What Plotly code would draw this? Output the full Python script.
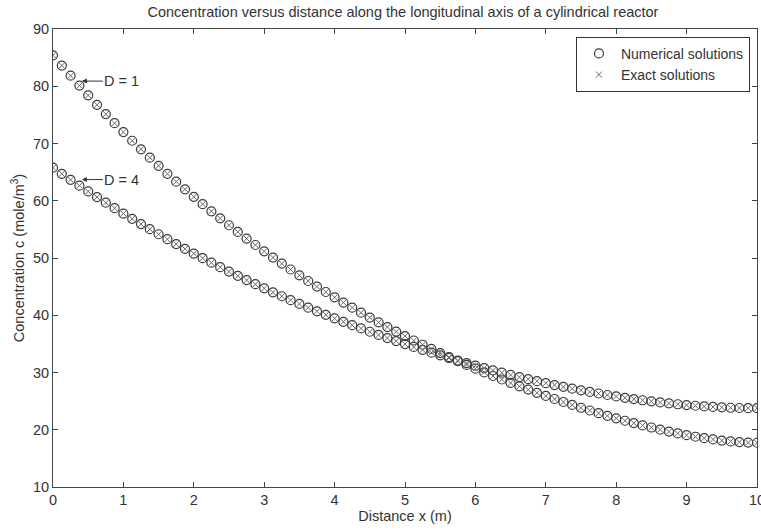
import plotly.graph_objects as go

x_vals = [i * 0.125 for i in range(81)]

conc_D1 = [85.41, 83.61, 81.84, 80.11, 78.42, 76.76, 75.14, 73.55, 72.00, 70.48,
           68.99, 67.53, 66.10, 64.71, 63.34, 62.00, 60.69, 59.41, 58.16, 56.93,
           55.72, 54.55, 53.39, 52.27, 51.16, 50.08, 49.02, 47.99, 46.97, 45.98,
           45.01, 44.06, 43.13, 42.22, 41.33, 40.45, 39.60, 38.76, 37.94, 37.14,
           36.36, 35.59, 34.85, 34.11, 33.39, 32.69, 32.00, 31.33, 30.67, 30.02,
           29.39, 28.78, 28.18, 27.59, 27.01, 26.45, 25.90, 25.37, 24.85, 24.34,
           23.84, 23.36, 22.89, 22.44, 22.00, 21.57, 21.16, 20.76, 20.39, 20.02,
           19.68, 19.36, 19.06, 18.78, 18.53, 18.31, 18.11, 17.96, 17.84, 17.76,
           17.73]

conc_D4 = [65.77, 64.71, 63.66, 62.64, 61.63, 60.64, 59.66, 58.70, 57.76, 56.84,
           55.92, 55.03, 54.15, 53.28, 52.43, 51.60, 50.78, 49.97, 49.18, 48.40,
           47.63, 46.88, 46.14, 45.42, 44.70, 44.00, 43.32, 42.64, 41.98, 41.33,
           40.69, 40.07, 39.46, 38.85, 38.26, 37.69, 37.12, 36.56, 36.02, 35.49,
           34.97, 34.46, 33.96, 33.47, 33.00, 32.53, 32.08, 31.63, 31.20, 30.78,
           30.37, 29.97, 29.58, 29.20, 28.84, 28.48, 28.14, 27.81, 27.49, 27.18,
           26.89, 26.60, 26.33, 26.07, 25.82, 25.58, 25.36, 25.15, 24.96, 24.77,
           24.61, 24.45, 24.31, 24.19, 24.08, 23.98, 23.91, 23.84, 23.80, 23.77,
           23.76]

exact_D1 = conc_D1
exact_D4 = conc_D4

FONT = "Liberation Sans, Arial, sans-serif"
FS = 14.5
TXT = "#333"
CIRC = "#3a3a3a"
XCOL = "#6a6a6a"

fig = go.Figure()
for i, num in enumerate([conc_D1, conc_D4]):
    fig.add_trace(go.Scatter(
        x=x_vals, y=num, mode="markers", name="Numerical solutions",
        showlegend=(i == 0),
        marker=dict(symbol="circle-open", size=9, color=CIRC, line=dict(width=1.2, color=CIRC)),
    ))
for i, ex in enumerate([exact_D1, exact_D4]):
    fig.add_trace(go.Scatter(
        x=x_vals, y=ex, mode="markers", name="Exact solutions",
        showlegend=(i == 0),
        marker=dict(symbol="x-thin-open", size=6, color=XCOL, line=dict(width=1, color=XCOL)),
    ))

for label, yv in [("D = 1", 80.9), ("D = 4", 63.7)]:
    fig.add_annotation(x=0.41, y=yv, xref="x", yref="y", text=label,
                       showarrow=True, arrowhead=2, arrowsize=1, arrowwidth=1,
                       arrowcolor="#333", axref="pixel", ayref="pixel", ax=40, ay=0,
                       font=dict(family=FONT, size=FS, color=TXT))

axis_common = dict(showline=True, linecolor="#444", linewidth=1, mirror="ticks",
                   ticks="inside", ticklen=5, tickcolor="#444", showgrid=False,
                   zeroline=False, ticklabeloverflow="allow", automargin=False,
                   tickfont=dict(family=FONT, size=FS, color=TXT))

fig.update_layout(
    width=761, height=531,
    margin=dict(l=53, r=4, t=29, b=44, autoexpand=False),
    paper_bgcolor="white", plot_bgcolor="white",
    font=dict(family=FONT, size=FS, color=TXT),
    title=dict(text="Concentration versus distance along the longitudinal axis of a cylindrical reactor",
               x=0.5295, xanchor="center", y=0.977, yanchor="middle",
               font=dict(family=FONT, size=FS, color=TXT)),
    xaxis=dict(range=[0, 10], dtick=1, tick0=0,
               title=dict(text="Distance x (m)", font=dict(family=FONT, size=FS, color=TXT), standoff=2),
               **axis_common),
    yaxis=dict(range=[10, 90], dtick=10, tick0=10,
               title=dict(text="Concentration c (mole/m<sup>3</sup>)", font=dict(family=FONT, size=FS, color=TXT), standoff=4),
               **axis_common),
    legend=dict(x=0.99, xanchor="right", y=0.983, yanchor="top",
                bgcolor="white", bordercolor="#333", borderwidth=1,
                font=dict(family=FONT, size=14, color=TXT),
                tracegroupgap=0, itemwidth=34),
    showlegend=True,
)

fig.write_html("out.html")
